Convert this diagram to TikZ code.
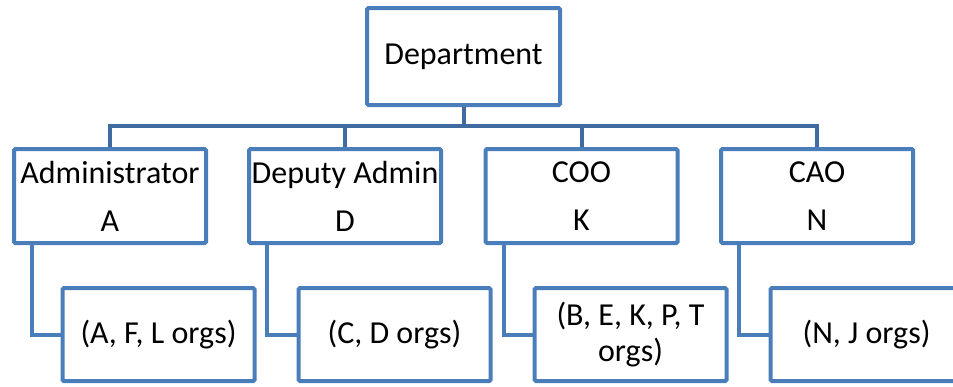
\documentclass[tikz,border=0pt]{standalone}
\usepackage{fontspec}
\setmainfont{Carlito}
\definecolor{boxblue}{RGB}{74,126,187}
\definecolor{barblue}{RGB}{64,106,160}

\begin{document}
\begin{tikzpicture}[x=0.75pt,y=-0.75pt,
  orgbox/.style={draw=boxblue,line width=3pt,fill=white,rounded corners=1pt,
    minimum width=144pt,minimum height=70.5pt,inner sep=1pt,align=center,
    font=\fontsize{24}{27}\selectfont},
  subbox/.style={orgbox,minimum height=69.75pt},
  link/.style={draw=boxblue,line width=3pt},
  toplink/.style={draw=barblue,line width=3pt}]
\useasboundingbox (0,0) rectangle (953,386);
\clip (0,0) rectangle (953,386);

\node[orgbox,minimum width=144.75pt,minimum height=72.75pt] (dept) at (463.5,56.5) {Department};

\node[orgbox] (adm) at (110,196) {Administrator\\[9pt]A};
\node[orgbox] (dep) at (345,196) {Deputy Admin\\[9pt]D};
\node[orgbox] (coo) at (581.5,196) {COO\\[9pt]K};
\node[orgbox] (cao) at (817,196) {CAO\\[9pt]N};

\node[subbox] (admsub) at (158.5,334.5) {(A, F, L orgs)};
\node[subbox] (depsub) at (394.5,334.5) {(C, D orgs)};
\node[subbox] (coosub) at (630.5,334.5) {(B, E, K, P, T\\orgs)};
\node[subbox] (caosub) at (866.5,334.5) {(N, J orgs)};

\coordinate (bar) at (463.5,126);
\draw[toplink] (dept.south) -- (bar);
\draw[toplink] (adm.north) |- (bar) -| (cao.north);
\draw[toplink] (dep.north) -- (dep.north |- bar);
\draw[toplink] (coo.north) -- (coo.north |- bar);

\draw[link] ([xshift=-58.5pt]adm.south) |- (admsub.west);
\draw[link] ([xshift=-58.5pt]dep.south) |- (depsub.west);
\draw[link] ([xshift=-58.5pt]coo.south) |- (coosub.west);
\draw[link] ([xshift=-58.5pt]cao.south) |- (caosub.west);
\end{tikzpicture}
\end{document}
